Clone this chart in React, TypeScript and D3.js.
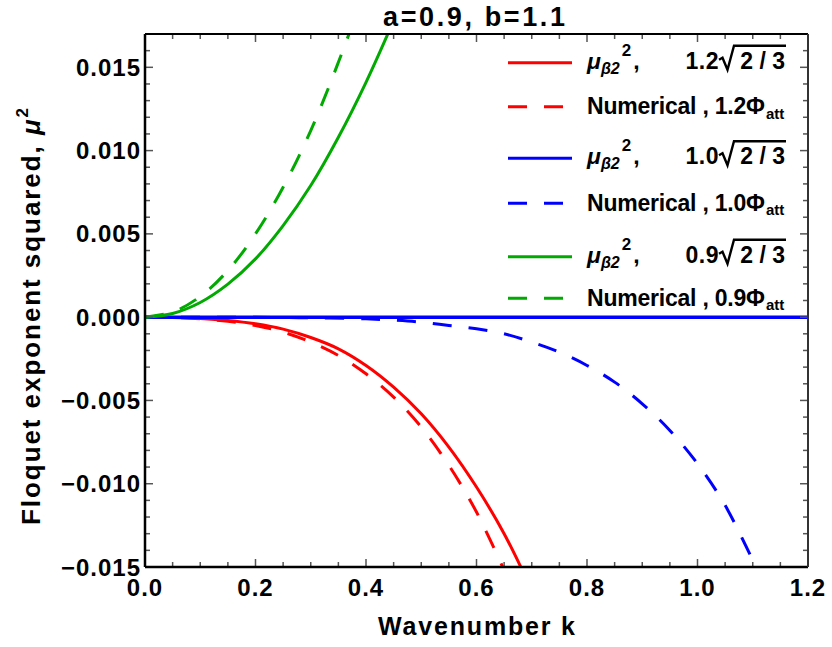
import React from "react";
import * as d3 from "d3";

const W = 832;
const H = 647;

const title = "a=0.9, b=1.1";
const xLabel = "Wavenumber k";
const yLabelMain = "Floquet exponent squared, ";

const xTicks = [0, 0.2, 0.4, 0.6, 0.8, 1.0, 1.2];
const xTickLabels = ["0.0", "0.2", "0.4", "0.6", "0.8", "1.0", "1.2"];
const yTicks = [-0.015, -0.01, -0.005, 0, 0.005, 0.01, 0.015];
const yTickLabels = ["\u22120.015", "\u22120.010", "\u22120.005", "0.000", "0.005", "0.010", "0.015"];

// red: 1.2
const redTheoryK = [0, 0.05, 0.1, 0.15, 0.2, 0.25, 0.3, 0.35, 0.4, 0.45, 0.5, 0.55, 0.6, 0.65, 0.7];
const redTheoryV = [0, -0.00002, -0.00008, -0.0002, -0.0004, -0.00072, -0.00122, -0.0019, -0.0029, -0.0042, -0.0058, -0.0078, -0.0102, -0.013, -0.0164];
const redNumK = [0, 0.05, 0.1, 0.15, 0.2, 0.25, 0.3, 0.35, 0.4, 0.45, 0.5, 0.55, 0.6, 0.65];
const redNumV = [0, -0.00002, -0.0001, -0.00025, -0.0005, -0.0009, -0.0015, -0.0023, -0.0034, -0.0048, -0.0066, -0.0089, -0.0117, -0.0152];
// blue: 1.0
const blueTheoryK = [0, 0.6, 1.2];
const blueTheoryV = [0, 0, 0];
const blueNumK = [0, 0.1, 0.2, 0.3, 0.4, 0.45, 0.5, 0.55, 0.6, 0.65, 0.7, 0.75, 0.8, 0.85, 0.9, 0.95, 1.0, 1.05, 1.1];
const blueNumV = [0, 0, -0.00001, -0.00004, -0.0001, -0.00018, -0.0003, -0.0005, -0.0007, -0.001, -0.0015, -0.0021, -0.0029, -0.0039, -0.0052, -0.0068, -0.0088, -0.0113, -0.0146];
// green: 0.9
const greenTheoryK = [0, 0.05, 0.1, 0.15, 0.2, 0.25, 0.3, 0.35, 0.4, 0.45];
const greenTheoryV = [0, 0.00022, 0.00088, 0.00198, 0.0035, 0.0055, 0.0079, 0.0108, 0.0141, 0.0178];
const greenNumK = [0, 0.05, 0.1, 0.15, 0.2, 0.25, 0.3, 0.35, 0.4];
const greenNumV = [0, 0.00031, 0.00124, 0.0028, 0.005, 0.0078, 0.0112, 0.0153, 0.0198];

const factors = ["1.2", "1.0", "0.9"];
const colors = ["#ff0000", "#0000ff", "#00aa00"];

const RED = colors[0];
const BLUE = colors[1];
const GREEN = colors[2];

const FONT = "'Liberation Sans', Arial, sans-serif";

export default function App() {
  const left = 145, right = 808, top = 34, bottom = 567;
  const x = d3.scaleLinear().domain([0, 1.2]).range([left, right]);
  const y = d3.scaleLinear().domain([-0.015, 0.017]).range([bottom, top]);

  const line = d3
    .line<[number, number]>()
    .x((d) => x(d[0]))
    .y((d) => y(d[1]))
    .curve(d3.curveCatmullRom.alpha(0.5));
  const zip = (ks: number[], vs: number[]) => ks.map((k, i) => [k, vs[i]] as [number, number]);

  const series = [
    { d: zip(redTheoryK, redTheoryV), c: RED, dash: false, w: 3 },
    { d: zip(redNumK, redNumV), c: RED, dash: true, w: 3 },
    { d: zip(blueTheoryK, blueTheoryV), c: BLUE, dash: false, w: 3.5 },
    { d: zip(blueNumK, blueNumV), c: BLUE, dash: true, w: 3 },
    { d: zip(greenTheoryK, greenTheoryV), c: GREEN, dash: false, w: 3 },
    { d: zip(greenNumK, greenNumV), c: GREEN, dash: true, w: 3 },
  ];

  const xMinor = d3.range(0, 1.2001, 0.05).filter((v) => !xTicks.some((t) => Math.abs(t - v) < 1e-6));
  const yMinor = d3.range(-0.015, 0.0170001, 0.001).filter((v) => !yTicks.some((t) => Math.abs(t - v) < 1e-7));

  const tickColor = "#555";
  const legendRows = [62.7, 106.7, 158.3, 203.3, 256.7, 298.3];

  return (
    <svg width={W} height={H} style={{ position: "absolute", left: 0, top: 0, background: "#fff" }} fontFamily={FONT}>
      <defs>
        <clipPath id="plotclip">
          <rect x={left} y={top} width={right - left} height={bottom - top} />
        </clipPath>
      </defs>
      <rect x={0} y={0} width={W} height={H} fill="#fff" />

      {/* curves */}
      <g clipPath="url(#plotclip)">
        {series.map((s, i) => (
          <path
            key={i}
            d={line(s.d) || ""}
            fill="none"
            stroke={s.c}
            strokeWidth={s.w}
            strokeDasharray={s.dash ? "19,17" : undefined}
          />
        ))}
      </g>

      {/* ticks */}
      <g stroke={tickColor} strokeWidth={1.5}>
        {xTicks.map((t, i) => (
          <g key={"xt" + i}>
            <line x1={x(t)} x2={x(t)} y1={bottom} y2={bottom - 8} />
            <line x1={x(t)} x2={x(t)} y1={top} y2={top + 8} />
          </g>
        ))}
        {xMinor.map((t, i) => (
          <g key={"xm" + i}>
            <line x1={x(t)} x2={x(t)} y1={bottom} y2={bottom - 5} />
            <line x1={x(t)} x2={x(t)} y1={top} y2={top + 5} />
          </g>
        ))}
        {yTicks.map((t, i) => (
          <g key={"yt" + i}>
            <line x1={left} x2={left + 8} y1={y(t)} y2={y(t)} />
            <line x1={right} x2={right - 8} y1={y(t)} y2={y(t)} />
          </g>
        ))}
        {yMinor.map((t, i) => (
          <g key={"ym" + i}>
            <line x1={left} x2={left + 5} y1={y(t)} y2={y(t)} />
            <line x1={right} x2={right - 5} y1={y(t)} y2={y(t)} />
          </g>
        ))}
      </g>

      {/* frame */}
      <line x1={left} x2={right} y1={bottom} y2={bottom} stroke="#000" strokeWidth={2.5} />
      <line x1={left} x2={left} y1={top} y2={bottom} stroke="#000" strokeWidth={2.5} />
      <line x1={left} x2={right} y1={top} y2={top} stroke="#000" strokeWidth={2} />
      <line x1={right} x2={right} y1={top} y2={bottom} stroke="#333" strokeWidth={2} />

      {/* tick labels */}
      <g fontSize={24} fontWeight="bold" fill="#000" letterSpacing={1}>
        {xTicks.map((t, i) => (
          <text key={"xl" + i} x={x(t)} y={596} textAnchor="middle">
            {xTickLabels[i]}
          </text>
        ))}
        {yTicks.map((t, i) => (
          <text key={"yl" + i} x={141} y={y(t) + 8.5} textAnchor="end">
            {yTickLabels[i]}
          </text>
        ))}
      </g>

      {/* title and axis labels */}
      <text x={474} y={26} textAnchor="middle" fontSize={27} fontWeight="bold" textLength={182} lengthAdjust="spacing">
        {title}
      </text>
      <text x={476.5} y={635} textAnchor="middle" fontSize={25} fontWeight="bold" textLength={197} lengthAdjust="spacing">
        {xLabel}
      </text>
      <text transform="translate(40,316.5) rotate(-90)" textAnchor="middle" fontSize={26} fontWeight="bold" textLength={417} lengthAdjust="spacing">
        {yLabelMain}
        <tspan fontStyle="italic">μ</tspan>
        <tspan fontSize={17} dy={-12}>2</tspan>
      </text>

      {/* legend */}
      <g fontWeight="bold" fontSize={23}>
        {factors.map((f, i) => {
          const ya = legendRows[i * 2];
          const yb = legendRows[i * 2 + 1];
          const c = colors[i];
          const base = ya + 6;
          return (
            <g key={"lg" + i}>
              <line x1={508} x2={572} y1={ya} y2={ya} stroke={c} strokeWidth={3} />
              <line x1={508} x2={572} y1={yb} y2={yb} stroke={c} strokeWidth={3} strokeDasharray="19,17" />
              <text x={587} y={base}>
                <tspan fontStyle="italic">μ</tspan>
                <tspan fontStyle="italic" fontSize={16} dy={5}>β2</tspan>
                <tspan fontSize={17} dx={2} dy={-18}>2</tspan>
                <tspan dx={2} dy={13}>,</tspan>
              </text>
              <text x={719} y={base} textAnchor="end" letterSpacing={0.5}>
                {f}
              </text>
              <path
                d={`M ${719} ${base - 9} L ${722.5} ${base - 11} L ${727.5} ${base + 1} L ${734} ${base - 23} L ${786} ${base - 23}`}
                fill="none"
                stroke="#000"
                strokeWidth={2.4}
                strokeLinejoin="miter"
              />
              <text x={785} y={base} textAnchor="end">
                2 / 3
              </text>
              <text x={587} y={yb + 7.5} textLength={178} lengthAdjust="spacing">
                {"Numerical , " + f + "Φ"}
              </text>
              <text x={766} y={yb + 12} fontSize={15}>
                att
              </text>
            </g>
          );
        })}
      </g>
    </svg>
  );
}
